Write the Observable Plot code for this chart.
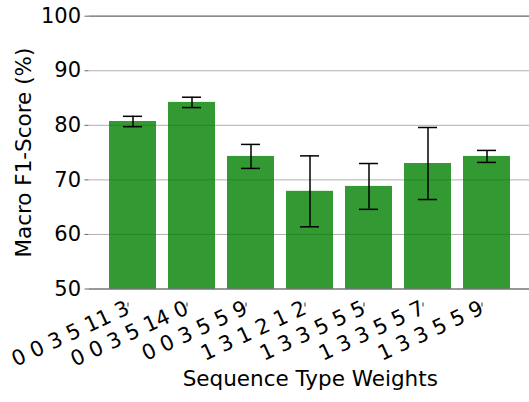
<!DOCTYPE html>
<html>
<head>
<meta charset="utf-8">
<script src="https://cdn.jsdelivr.net/npm/d3@7"></script>
<script src="https://cdn.jsdelivr.net/npm/@observablehq/plot@0.6"></script>
<style>
  html, body { margin: 0; padding: 0; background: white; }
</style>
</head>
<body>
<div id="chart"></div>
<script>
const categories = ["0 0 3 5 11 3", "0 0 3 5 14 0", "0 0 3 5 5 9", "1 3 1 2 1 2", "1 3 3 5 5 5", "1 3 3 5 5 7", "1 3 3 5 5 9"];
const means = [80.7, 84.2, 74.3, 67.9, 68.8, 73.0, 74.3];
const errors = [0.95, 0.95, 2.2, 6.5, 4.2, 6.6, 1.1];
const yTicks = [50, 60, 70, 80, 90, 100];
const gridTicks = [60, 70, 80, 90];
const xTitle = "Sequence Type Weights";
const yTitle = "Macro F1-Score (%)";

const data = categories.map((c, i) => ({cat: c, mean: means[i], lo: means[i] - errors[i], hi: means[i] + errors[i]}));

const font = "DejaVu Sans";
const chart = Plot.plot({
  width: 529,
  height: 402,
  marginLeft: 88.5,
  marginRight: -2,
  marginTop: 15.7,
  marginBottom: 113.5,
  style: {fontFamily: font, background: "white", overflow: "visible"},
  x: {domain: categories, range: [88.5, 531], paddingInner: 0.2, paddingOuter: 0.34, align: 0.5},
  y: {domain: [50, 100], range: [288.5, 15.7]},
  marks: [
    Plot.ruleY(gridTicks, {stroke: "#b0b0b0", strokeWidth: 1}),
    Plot.barY(data, {x: "cat", y1: 50, y2: "mean", fill: "green", fillOpacity: 0.8}),
    Plot.ruleX(data, {x: "cat", y1: "lo", y2: "hi", stroke: "black", strokeWidth: 1.5}),
    Plot.tickY(data, {x: "cat", y: "lo", stroke: "black", strokeWidth: 1.5, inset: 14}),
    Plot.tickY(data, {x: "cat", y: "hi", stroke: "black", strokeWidth: 1.5, inset: 14}),
    Plot.ruleY([100], {stroke: "#666", strokeWidth: 1.2}),
    Plot.ruleY([50], {stroke: "#333", strokeWidth: 1.2}),
    Plot.ruleX([categories[0]], {x: () => null, stroke: "#666", strokeWidth: 1.2}),
    Plot.axisY({ticks: yTicks, tickSize: 4, tickPadding: 4, fontSize: 21, stroke: "#666", fill: "black", label: null}),
    Plot.axisX({tickSize: 4, tickPadding: 0, tickRotate: -25, textAnchor: "end", lineAnchor: "middle", dx: -5, dy: 14, fontSize: 21, stroke: "#333", fill: "black", label: null}),
    Plot.text([yTitle], {frameAnchor: "left", textAnchor: "middle", dx: -64.5, rotate: -90, fontSize: 21.5, fill: "black"}),
    Plot.text([xTitle], {frameAnchor: "bottom", textAnchor: "middle", dy: 97, fontSize: 21.5, fill: "black"})
  ]
});
document.getElementById("chart").appendChild(chart);
</script>
</body>
</html>
